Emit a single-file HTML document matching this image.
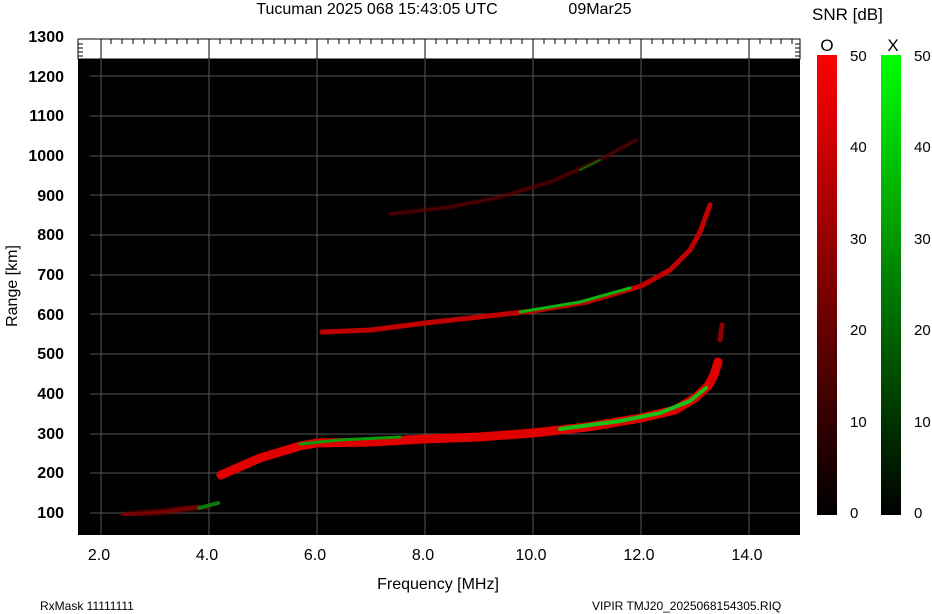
<!DOCTYPE html>
<html><head><meta charset="utf-8"><style>
body{margin:0;background:#fff;width:932px;height:614px;overflow:hidden}
svg{display:block;font-family:"Liberation Sans",Arial,sans-serif}
</style></head><body>
<svg width="932" height="614" viewBox="0 0 932 614">
<defs>
<linearGradient id="gr" x1="0" y1="1" x2="0" y2="0"><stop offset="0" stop-color="#000"/><stop offset="0.55" stop-color="#8a0000"/><stop offset="1" stop-color="#ff0000"/></linearGradient>
<linearGradient id="gg" x1="0" y1="1" x2="0" y2="0"><stop offset="0" stop-color="#000"/><stop offset="0.55" stop-color="#008a00"/><stop offset="1" stop-color="#00ff00"/></linearGradient>
<filter id="b"><feGaussianBlur stdDeviation="1"/></filter>
</defs>
<text x="377" y="14" font-size="16" text-anchor="middle">Tucuman 2025 068 15:43:05 UTC</text>
<text x="600" y="14" font-size="16" text-anchor="middle">09Mar25</text>
<rect x="78" y="39" width="722" height="20" fill="#fff" stroke="#000"/>
<rect x="78" y="59" width="722" height="476" fill="#000"/>
<g stroke="#000" stroke-width="1" id="tk"></g>
<g stroke="#555" stroke-width="1">
<line x1="101" y1="39" x2="101" y2="535"/><line x1="209" y1="39" x2="209" y2="535"/><line x1="317" y1="39" x2="317" y2="535"/><line x1="425" y1="39" x2="425" y2="535"/><line x1="533" y1="39" x2="533" y2="535"/><line x1="641" y1="39" x2="641" y2="535"/><line x1="749" y1="39" x2="749" y2="535"/>
<line x1="90" y1="76" x2="800" y2="76"/><line x1="90" y1="116" x2="800" y2="116"/><line x1="90" y1="156" x2="800" y2="156"/><line x1="90" y1="195" x2="800" y2="195"/><line x1="90" y1="235" x2="800" y2="235"/><line x1="90" y1="275" x2="800" y2="275"/><line x1="90" y1="314" x2="800" y2="314"/><line x1="90" y1="354" x2="800" y2="354"/><line x1="90" y1="394" x2="800" y2="394"/><line x1="90" y1="434" x2="800" y2="434"/><line x1="90" y1="473" x2="800" y2="473"/><line x1="90" y1="513" x2="800" y2="513"/>
</g>
<g stroke="#000">
<path d="M111 39v5M122 39v5M133 39v5M144 39v5M155 39v5M166 39v5M177 39v5M187 39v5M198 39v5M220 39v5M231 39v5M241 39v5M252 39v5M263 39v5M274 39v5M285 39v5M295 39v5M306 39v5M328 39v5M339 39v5M349 39v5M360 39v5M371 39v5M382 39v5M393 39v5M403 39v5M414 39v5M436 39v5M447 39v5M457 39v5M468 39v5M479 39v5M490 39v5M501 39v5M511 39v5M522 39v5M544 39v5M555 39v5M565 39v5M576 39v5M587 39v5M598 39v5M609 39v5M619 39v5M630 39v5M652 39v5M663 39v5M673 39v5M684 39v5M695 39v5M706 39v5M717 39v5M727 39v5M738 39v5M760 39v5M771 39v5M781 39v5M792 39v5"/>
<path d="M101 39v20M209 39v20M317 39v20M425 39v20M533 39v20M641 39v20M749 39v20"/>
<path d="M78 44h5M78 48h5M78 52h5M78 56h5"/>
<path d="M800 44h-5M800 48h-5M800 52h-5M800 56h-5"/>
</g>
<g fill="none" stroke-linecap="round" stroke-linejoin="round">
<path d="M123 515 L160 512 L209 506" stroke="#7a0000" stroke-width="5" filter="url(#b)"/>
<path d="M199 508 L218 503" stroke="#0a7a0a" stroke-width="4"/>
<path d="M221 475 L260 458 L300 446 L317 443 L371 442 L425 439 L479 437 L533 433 L587 427 L641 418 L675 410 L695 398 L708 386 L714 375 L718 362" stroke="#e00000" stroke-width="9"/>
<path d="M300 444 L340 440 L400 437" stroke="#0a9a0a" stroke-width="3"/>
<path d="M560 429 L620 421 L660 413 L690 401 L706 388" stroke="#18c018" stroke-width="4"/>
<path d="M720 340 L722 325" stroke="#900000" stroke-width="5"/>
<path d="M322 332 L371 330 L425 323 L479 317 L533 311 L587 302 L641 286 L670 270 L690 250 L700 232 L710 205" stroke="#c00000" stroke-width="5"/>
<path d="M520 312 L580 302 L630 288" stroke="#10b010" stroke-width="3"/>
<path d="M390 214 L450 207 L500 197 L550 182 L600 160 L636 140" stroke="#600000" stroke-width="3" filter="url(#b)"/>
<path d="M580 170 L600 160" stroke="#0a6a0a" stroke-width="2"/>
</g>
<g font-size="16" font-weight="bold" text-anchor="end">
<text x="64" y="42">1300</text><text x="64" y="82">1200</text><text x="64" y="121">1100</text><text x="64" y="161">1000</text><text x="64" y="201">900</text><text x="64" y="240">800</text><text x="64" y="280">700</text><text x="64" y="320">600</text><text x="64" y="359">500</text><text x="64" y="399">400</text><text x="64" y="439">300</text><text x="64" y="478">200</text><text x="64" y="518">100</text>
</g>
<text transform="translate(17 286) rotate(-90)" font-size="16" text-anchor="middle">Range [km]</text>
<g font-size="16" text-anchor="middle">
<text x="99" y="560">2.0</text><text x="207" y="560">4.0</text><text x="315" y="560">6.0</text><text x="423" y="560">8.0</text><text x="531" y="560">10.0</text><text x="639" y="560">12.0</text><text x="747" y="560">14.0</text>
<text x="438" y="589">Frequency [MHz]</text>
</g>
<text x="40" y="610" font-size="12">RxMask 11111111</text>
<text x="592" y="610" font-size="12">VIPIR  TMJ20_2025068154305.RIQ</text>
<text x="812" y="20" font-size="17">SNR [dB]</text>
<text x="827" y="51" font-size="17" text-anchor="middle">O</text>
<text x="893" y="51" font-size="17" text-anchor="middle">X</text>
<rect x="817" y="55" width="20" height="460" fill="url(#gr)"/>
<rect x="881" y="55" width="20" height="460" fill="url(#gg)"/>
<g font-size="15">
<text x="850" y="61">50</text><text x="850" y="152">40</text><text x="850" y="244">30</text><text x="850" y="335">20</text><text x="850" y="427">10</text><text x="850" y="518">0</text>
<text x="914" y="61">50</text><text x="914" y="152">40</text><text x="914" y="244">30</text><text x="914" y="335">20</text><text x="914" y="427">10</text><text x="914" y="518">0</text>
</g>
</svg>
</body></html>
